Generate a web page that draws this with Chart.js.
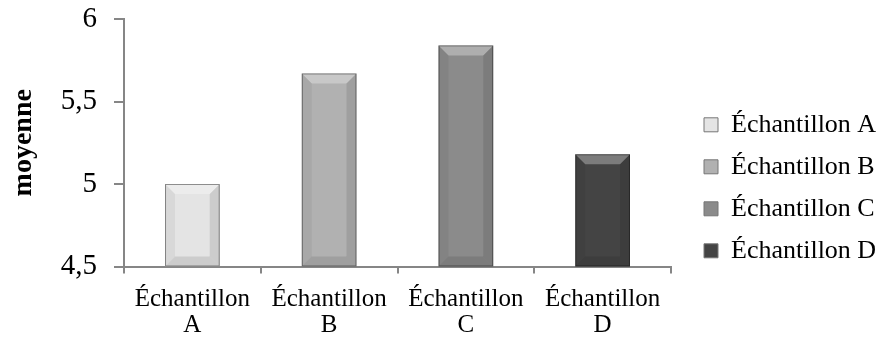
<!DOCTYPE html>
<html>
<head>
<meta charset="utf-8">
<script src="https://cdn.jsdelivr.net/npm/chart.js@4.4.0/dist/chart.umd.min.js"></script>
<style>
  html, body { margin: 0; padding: 0; background: #fff; }
  #wrap { width: 880px; height: 352px; }
</style>
</head>
<body>
<div id="wrap"><canvas id="graphe"></canvas></div>
<script>
// donnees
const categories = [["Échantillon", "A"], ["Échantillon", "B"], ["Échantillon", "C"], ["Échantillon", "D"]];
const legendes = ["Échantillon A", "Échantillon B", "Échantillon C", "Échantillon D"];
const moyennes = [5.0, 5.67, 5.84, 5.18];
const couleurs = ["#e4e4e4", "#b1b1b1", "#8b8b8b", "#444444"];

const police = "'Liberation Serif', 'Times New Roman', serif";
const gris = "#868686";

// effet biseau sur les barres (style Excel)
const biseau = {
    id: "biseau",
    afterDatasetsDraw(chart) {
        const ctx = chart.ctx;
        const meta = chart.getDatasetMeta(0);
        meta.data.forEach((bar) => {
            const l = bar.x - bar.width / 2;
            const r = bar.x + bar.width / 2;
            const t = bar.y;
            const b = Math.min(bar.base, chart.chartArea.bottom);
            const e = Math.min(10, (b - t) / 3);
            ctx.save();
            // haut clair
            ctx.fillStyle = "rgba(255,255,255,0.3)";
            ctx.beginPath();
            ctx.moveTo(l, t); ctx.lineTo(r, t); ctx.lineTo(r - e, t + e); ctx.lineTo(l + e, t + e);
            ctx.closePath(); ctx.fill();
            // bas sombre
            ctx.fillStyle = "rgba(0,0,0,0.1)";
            ctx.beginPath();
            ctx.moveTo(l, b); ctx.lineTo(r, b); ctx.lineTo(r - e, b - e); ctx.lineTo(l + e, b - e);
            ctx.closePath(); ctx.fill();
            // cotes
            ctx.fillStyle = "rgba(0,0,0,0.05)";
            ctx.beginPath();
            ctx.moveTo(l, t); ctx.lineTo(l + e, t + e); ctx.lineTo(l + e, b - e); ctx.lineTo(l, b);
            ctx.closePath(); ctx.fill();
            ctx.fillStyle = "rgba(0,0,0,0.1)";
            ctx.beginPath();
            ctx.moveTo(r, t); ctx.lineTo(r - e, t + e); ctx.lineTo(r - e, b - e); ctx.lineTo(r, b);
            ctx.closePath(); ctx.fill();
            // contour
            ctx.strokeStyle = "rgba(0,0,0,0.4)";
            ctx.lineWidth = 1;
            ctx.strokeRect(l + 0.5, t + 0.5, r - l - 1, b - t - 1);
            ctx.restore();
        });
    }
};

new Chart(document.getElementById("graphe"), {
    type: "bar",
    data: {
        labels: categories,
        datasets: [{
            data: moyennes,
            backgroundColor: couleurs,
            borderWidth: 0,
            categoryPercentage: 1,
            barPercentage: 0.4
        }]
    },
    options: {
        responsive: true,
        maintainAspectRatio: false,
        animation: false,
        layout: { padding: { top: 19, right: 0, left: 0, bottom: 0 } },
        plugins: {
            tooltip: { enabled: false },
            legend: {
                position: "right",
                align: "start",
                maxWidth: 192,
                title: { display: true, text: " ", padding: { top: 72, bottom: 0 }, font: { size: 4 } },
                labels: {
                    color: "#000",
                    boxWidth: 14,
                    boxHeight: 14,
                    padding: 16,
                    font: { family: police, size: 26 },
                    generateLabels: () => legendes.map((txt, i) => ({
                        text: txt,
                        fillStyle: couleurs[i],
                        strokeStyle: "#777",
                        lineWidth: 1,
                        fontColor: "#000",
                        index: i
                    }))
                }
            }
        },
        scales: {
            x: {
                border: { color: gris, width: 2 },
                grid: { display: true, drawOnChartArea: false, drawTicks: true, tickLength: 7, color: gris, lineWidth: 2 },
                ticks: { color: "#000", font: { family: police, size: 25, lineHeight: 1.05 }, padding: 13, maxRotation: 0 }
            },
            y: {
                min: 4.5,
                max: 6,
                afterFit: (s) => { s.width = 124; },
                border: { color: gris, width: 2 },
                grid: { display: true, drawOnChartArea: false, drawTicks: true, tickLength: 10, color: gris, lineWidth: 2 },
                ticks: {
                    stepSize: 0.5,
                    color: "#000",
                    padding: 17,
                    font: { family: police, size: 29, lineHeight: 0.1 },
                    callback: (v) => String(v).replace(".", ",")
                },
                title: {
                    display: true,
                    text: "moyenne",
                    color: "#000",
                    font: { family: police, size: 28, weight: "bold" },
                    padding: { top: 7, bottom: 2 }
                }
            },
            // espace vide entre le graphique et la legende
            marge: {
                position: "right",
                display: false,
                afterFit: (s) => { s.width = 17; }
            }
        }
    },
    plugins: [biseau]
});
</script>
</body>
</html>
